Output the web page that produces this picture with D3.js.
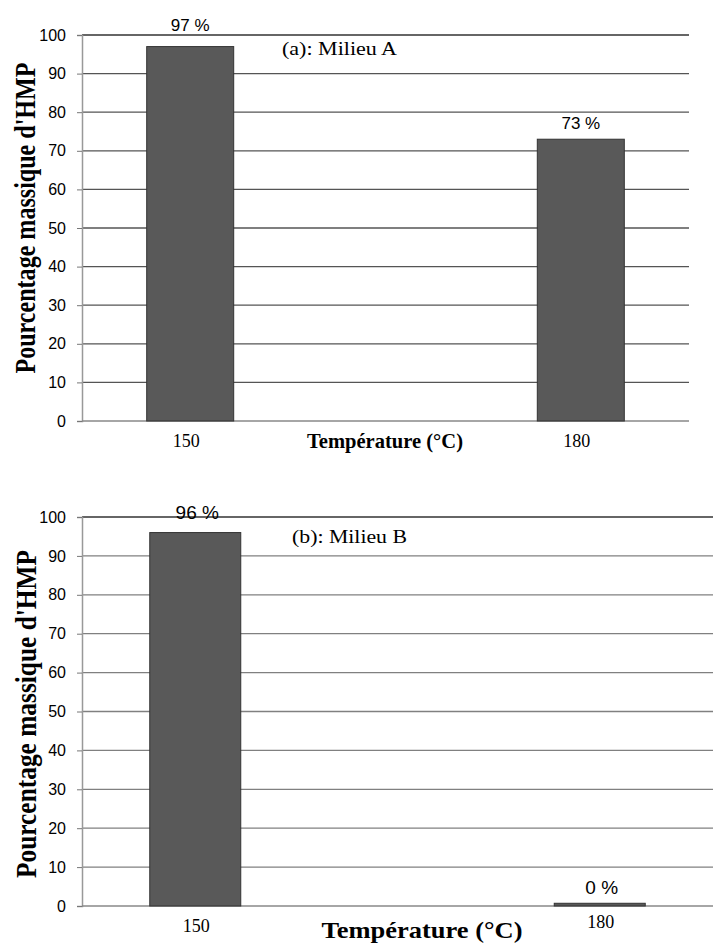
<!DOCTYPE html>
<html><head><meta charset="utf-8">
<script src="https://cdn.jsdelivr.net/npm/d3@7"></script>
<style>body{margin:0;background:#fff}svg{display:block}</style>
</head><body>
<svg id="c" width="713" height="945"></svg>
<script>
const categories = ["150", "180"];
const valuesA = [97, 73];
const valuesB = [96, 0.7];
const labelsA = ["97 %", "73 %"];
const labelsB = ["96 %", "0 %"];
const yTicks = [0, 10, 20, 30, 40, 50, 60, 70, 80, 90, 100];
const titleA = "(a): Milieu A";
const titleB = "(b): Milieu B";
const xTitle = "Température (°C)";
const yTitle = "Pourcentage massique d'HMP";

const svg = d3.select("#c");
const SANS = "Liberation Sans, Arial, sans-serif";
const SERIF = "Liberation Serif, Times New Roman, serif";

function panel(cfg) {
  const g = svg.append("g");
  const y = d3.scaleLinear().domain([0, 100]).range([cfg.y0, cfg.y1]);
  const x = d3.scalePoint().domain(categories).range([cfg.xl, cfg.xr]).padding(cfg.pad);
  g.selectAll("line.grid").data(yTicks.filter(t => t > 0)).join("line")
    .attr("x1", cfg.xl).attr("x2", cfg.xr)
    .attr("y1", d => y(d)).attr("y2", d => y(d))
    .attr("stroke", d => d === 100 ? "#333" : cfg.grid).attr("stroke-width", 1.3);
  const ya = d3.axisLeft(y).tickValues(yTicks).tickSize(5).tickPadding(11);
  const ag = g.append("g").attr("transform", `translate(${cfg.xl},0)`).call(ya);
  ag.select(".domain").attr("stroke", "#999").attr("stroke-width", 1.5);
  ag.selectAll(".tick line").attr("stroke", "#777");
  ag.selectAll(".tick text").attr("font-family", SANS)
    .attr("font-size", 16).attr("fill", "#000");
  g.append("line").attr("x1", cfg.xl).attr("x2", cfg.xr)
    .attr("y1", y(0)).attr("y2", y(0)).attr("stroke", "#888").attr("stroke-width", 1.5);
  g.selectAll("rect.bar").data(cfg.values).join("rect")
    .attr("x", (d, i) => x(categories[i]) - cfg.bw / 2)
    .attr("width", cfg.bw)
    .attr("y", d => y(d)).attr("height", d => y(0) - y(d))
    .attr("fill", "#595959").attr("stroke", "#333").attr("stroke-width", 1);
  g.selectAll("text.val").data(cfg.values).join("text")
    .attr("x", (d, i) => x(categories[i]) + cfg.lblDx)
    .attr("y", (d, i) => y(d) - cfg.lblDy[i])
    .attr("text-anchor", "middle")
    .attr("font-family", SANS)
    .attr("font-size", cfg.lblSize)
    .text((d, i) => cfg.labels[i]);
  g.selectAll("text.cat").data(categories).join("text")
    .attr("x", d => x(d) + cfg.catDx)
    .attr("y", (d, i) => y(0) + cfg.catDy[i])
    .attr("text-anchor", "middle")
    .attr("font-family", SERIF)
    .attr("font-size", 18)
    .text(d => d);
  g.append("text").attr("x", cfg.xtX).attr("y", y(0) + cfg.xtDy)
    .attr("text-anchor", "middle")
    .attr("font-family", SERIF)
    .attr("font-weight", "bold").attr("font-size", cfg.xtSize)
    .attr("textLength", cfg.xtLen).attr("lengthAdjust", "spacingAndGlyphs")
    .text(xTitle);
  g.append("text")
    .attr("transform", `translate(${cfg.ytX},${cfg.ytY}) rotate(-90)`)
    .attr("text-anchor", "middle")
    .attr("font-family", SERIF)
    .attr("font-weight", "bold").attr("font-size", cfg.ytSize)
    .attr("textLength", cfg.ytLen).attr("lengthAdjust", "spacingAndGlyphs")
    .text(yTitle);
  g.append("text").attr("x", cfg.tX).attr("y", cfg.tY)
    .attr("font-family", SERIF)
    .attr("font-size", 19)
    .attr("textLength", 115).attr("lengthAdjust", "spacingAndGlyphs")
    .text(cfg.title);
}

panel({
  y0: 421, y1: 35, xl: 82, xr: 689, pad: 0.277, bw: 87, grid: "#555",
  values: valuesA, labels: labelsA, lblDx: 0, lblDy: [16, 10], lblSize: 17,
  catDx: -4, catDy: [26, 26], xtX: 385, xtDy: 27, xtSize: 21, xtLen: 156,
  ytX: 35, ytY: 218, ytSize: 29, ytLen: 311, tX: 282, tY: 55, title: titleA
});
panel({
  y0: 906, y1: 517, xl: 82, xr: 713, pad: 0.28, bw: 91, grid: "#808080",
  values: valuesB, labels: labelsB, lblDx: 2, lblDy: [14, 9], lblSize: 19,
  catDx: 1, catDy: [26, 22], xtX: 422, xtDy: 32, xtSize: 24, xtLen: 201,
  ytX: 36, ytY: 714, ytSize: 30, ytLen: 328, tX: 292, tY: 543, title: titleB
});
</script>
</body></html>
